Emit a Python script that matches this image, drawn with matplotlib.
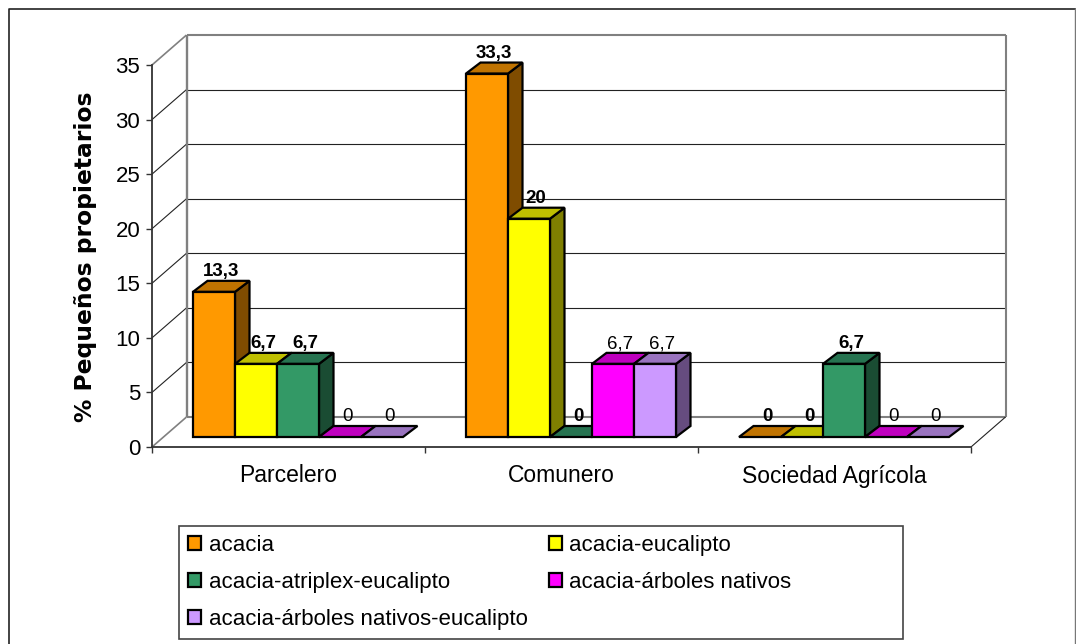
import matplotlib
matplotlib.use('Agg')
import matplotlib.pyplot as plt
from matplotlib.patches import Polygon, Patch, Rectangle

plt.rcParams['font.family'] = ['Liberation Sans', 'DejaVu Sans']

# datos
categorias = ['Parcelero', 'Comunero', 'Sociedad Agrícola']
series = ['acacia', 'acacia-eucalipto', 'acacia-atriplex-eucalipto',
          'acacia-árboles nativos', 'acacia-árboles nativos-eucalipto']
acacia = [13.3, 33.3, 0]
eucalipto = [6.7, 20, 0]
atriplex = [6.7, 0, 6.7]
nativos = [0, 6.7, 0]
nativos_euc = [0, 6.7, 0]
etiquetas_y = [0, 5, 10, 15, 20, 25, 30, 35]

valores = [acacia, eucalipto, atriplex, nativos, nativos_euc]
colores = ['#FF9900', '#FFFF00', '#339966', '#FF00FF', '#CC99FF']
techos = ['#C07300', '#BFBF00', '#267350', '#BF00BF', '#9973BF']
lados = ['#7F4C00', '#7F7F00', '#1A4C33', '#7F007F', '#664C7F']
negrita = [True, True, True, False, False]

W, H = 1076, 644
X0, X1, Y0, Y35 = 152, 971, 447, 65
UX = (X1 - X0) / 3      # pixeles por categoria
UY = (Y0 - Y35) / 35    # pixeles por unidad

# profundidad de la pared y de las barras, en unidades de los ejes
PARED_X, PARED_Y = 34.5 / UX, 30 / UY
BARRA_X, BARRA_Y = 14.5 / UX, 11 / UY
PISO_X, PISO_Y = 9.5 / UX, 10 / UY
ANCHO = 42 / UX
MARGEN = 31.5 / UX
LW = 1.6
FUENTE = 16

fig = plt.figure(figsize=(W / 100, H / 100), dpi=100)
ax = fig.add_axes([X0 / W, 1 - Y0 / H, (X1 - X0) / W, (Y0 - Y35) / H])
ax.set_xlim(0, 3)
ax.set_ylim(0, 35)
ax.patch.set_visible(False)
for lado in ['top', 'right']:
    ax.spines[lado].set_visible(False)
for lado in ['left', 'bottom']:
    ax.spines[lado].set_color('#333333')
    ax.spines[lado].set_linewidth(1.3)


def linea(xs, ys, color='#222222', lw=0.8):
    ax.plot(xs, ys, color=color, lw=lw, clip_on=False, zorder=1,
            solid_capstyle='butt')


# pared del fondo y piso
for v in etiquetas_y[1:-1]:
    linea([0, PARED_X], [v, v + PARED_Y])
    linea([PARED_X, 3 + PARED_X], [v + PARED_Y, v + PARED_Y])
GRIS = '#808080'
linea([0, PARED_X], [35, 35 + PARED_Y], GRIS, 1.2)
linea([PARED_X, 3 + PARED_X], [35 + PARED_Y, 35 + PARED_Y], GRIS, 1.5)
linea([PARED_X, PARED_X], [PARED_Y, 35 + PARED_Y], GRIS, 1.7)
linea([3 + PARED_X, 3 + PARED_X], [PARED_Y, 35 + PARED_Y], GRIS, 1.5)
linea([PARED_X, 3 + PARED_X], [PARED_Y, PARED_Y], GRIS, 1.5)
linea([0, PARED_X], [0, PARED_Y], GRIS, 1.2)
linea([3, 3 + PARED_X], [0, PARED_Y])


def cara(puntos, color):
    ax.add_patch(Polygon(puntos, closed=True, facecolor=color, edgecolor='black',
                         lw=LW, joinstyle='miter', clip_on=False, zorder=3))


# barras de izquierda a derecha, cada una tapa el lado de la anterior
for c in range(len(categorias)):
    for s, vals in enumerate(valores):
        v = vals[c]
        x = c + MARGEN + PISO_X + s * ANCHO
        b = PISO_Y
        t = b + v
        if v > 0:
            cara([(x + ANCHO, b), (x + ANCHO + BARRA_X, b + BARRA_Y),
                  (x + ANCHO + BARRA_X, t + BARRA_Y), (x + ANCHO, t)], lados[s])
        cara([(x, t), (x + ANCHO, t), (x + ANCHO + BARRA_X, t + BARRA_Y),
              (x + BARRA_X, t + BARRA_Y)], techos[s])
        if v > 0:
            cara([(x, b), (x + ANCHO, b), (x + ANCHO, t), (x, t)], colores[s])
        texto = f'{v:g}'.replace('.', ',')
        ax.annotate(texto, (x + ANCHO / 2 + BARRA_X / 2, t + BARRA_Y),
                    xytext=(0, 0.5), textcoords='offset points', ha='center',
                    va='bottom', fontsize=13.5, annotation_clip=False, zorder=4,
                    fontweight='bold' if negrita[s] else 'normal')

# ejes
ax.set_yticks(etiquetas_y)
ax.set_xticks([0, 1, 2, 3])
ax.set_xticklabels([])
ax.tick_params(axis='both', length=4.5, width=1.0, color='#333333')
ax.tick_params(axis='y', labelsize=FUENTE, pad=4)
for c, nombre in enumerate(categorias):
    ax.annotate(nombre, (c + 0.5, 0), xytext=(0, -29), textcoords='offset pixels',
                ha='center', va='center', fontsize=FUENTE + 0.5, annotation_clip=False)
ax.set_ylabel('% Pequeños propietarios', family='DejaVu Sans', fontweight='bold',
              fontsize=16.8)
ax.yaxis.set_label_coords(-0.067, 0.497)

# marco exterior, abierto por abajo
fig.add_artist(plt.Line2D([8.5 / W, 8.5 / W, 1075 / W], [0, 1 - 9 / H, 1 - 9 / H],
                          transform=fig.transFigure, color='#222222', lw=1.2))
fig.add_artist(plt.Line2D([1075 / W, 1075 / W], [0, 1 - 9 / H],
                          transform=fig.transFigure, color='#777777', lw=1.0))
# leyenda
fig.add_artist(Rectangle((179 / W, 1 - 639 / H), (903 - 179) / W, (639 - 525.5) / H,
                         transform=fig.transFigure, fill=False, edgecolor='#444444', lw=1.2))
orden = [0, 2, 4, 1, 3]
manijas = [Patch(facecolor=colores[i], edgecolor='black', lw=LW) for i in orden]
fig.legend(manijas, [series[i] for i in orden], ncol=2, frameon=False,
           loc='upper left', bbox_to_anchor=(188 / W, 1 - 535 / H),
           borderaxespad=0, borderpad=0, fontsize=FUENTE, handlelength=0.6,
           handleheight=0.6, handletextpad=0.33, labelspacing=0.72, columnspacing=0.95)

fig.savefig('out.png', dpi=100)
